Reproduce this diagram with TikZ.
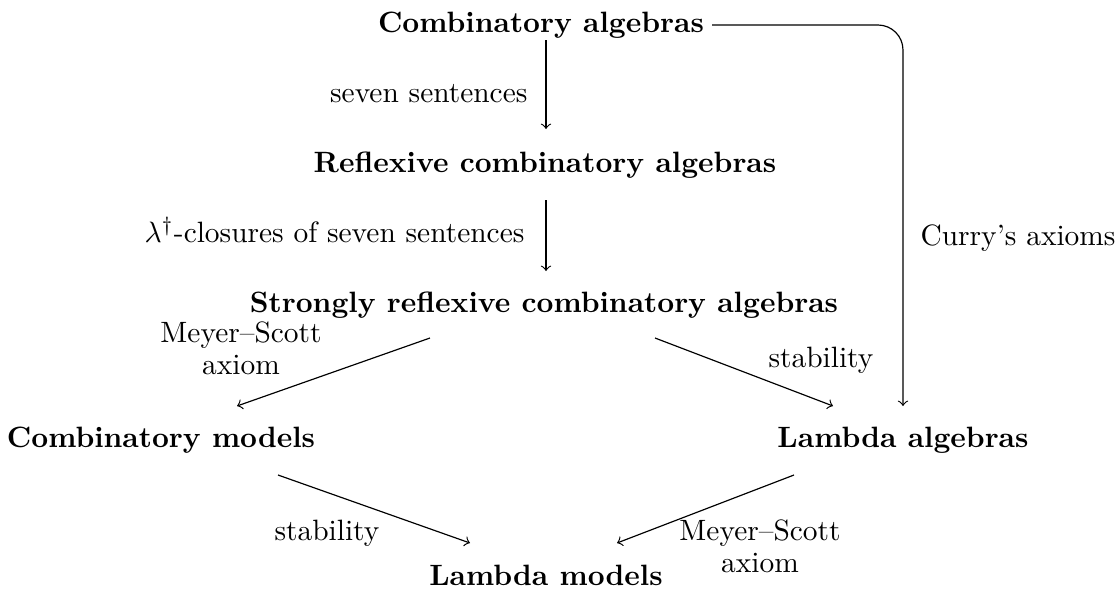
\documentclass[tikz,border=0pt]{standalone}
\usetikzlibrary{calc}
\begin{document}
\begin{tikzpicture}[x=0.34pt,y=-0.34pt,
  b/.style={font=\bfseries,inner sep=0pt,anchor=base},
  lab/.style={inner sep=0pt,align=center},
  arr/.style={->,line width=0.4pt}]
\useasboundingbox (0,0) rectangle (1117,590);
\node[b] (ca) at (541,32) {Combinatory algebras};
\node[b] (rca) at (545,172) {Reflexive combinatory algebras};
\node[b] (sca) at (544,312) {Strongly reflexive combinatory algebras};
\node[b] (cm) at (161,447) {Combinatory models};
\node[b] (la) at (903,447) {Lambda algebras};
\node[b] (lm) at (546,585) {Lambda models};
\draw[arr] ($(ca.base)+(5,8)$) -- ($(rca.base)+(1,-43)$);
\draw[arr] ($(rca.base)+(1,28)$) -- ($(sca.base)+(2,-41)$);
\draw[arr] ($(sca.base)+(-114,26)$) -- ($(cm.base)+(76,-41)$);
\draw[arr] ($(sca.base)+(111,26)$) -- ($(la.base)+(-70,-41)$);
\draw[arr] ($(cm.base)+(117,28)$) -- ($(lm.base)+(-76,-42)$);
\draw[arr] ($(la.base)+(-109,28)$) -- ($(lm.base)+(71,-42)$);
\coordinate (c1) at (903,25);
\draw[arr,rounded corners=8.5pt] ($(ca.base)+(171,-7)$) -- (c1) -- ($(la.base)+(0,-41)$);
\node[lab,anchor=base east] (l1) at (528,102) {seven sentences};
\node[lab,anchor=base east] (l2) at (525,242) {$\lambda^\dagger$-closures of seven sentences};
\node[lab,anchor=north] (l3) at (241,321) {Meyer--Scott\\[-1pt]axiom};
\node[lab,anchor=base] (l4) at (821,367) {stability};
\node[lab,anchor=base] (l5) at (327,540) {stability};
\node[lab,anchor=north] (l6) at (760,519) {Meyer--Scott\\[-1pt]axiom};
\node[lab,anchor=base west] (l7) at (920,245) {Curry's axioms};
\end{tikzpicture}
\end{document}
